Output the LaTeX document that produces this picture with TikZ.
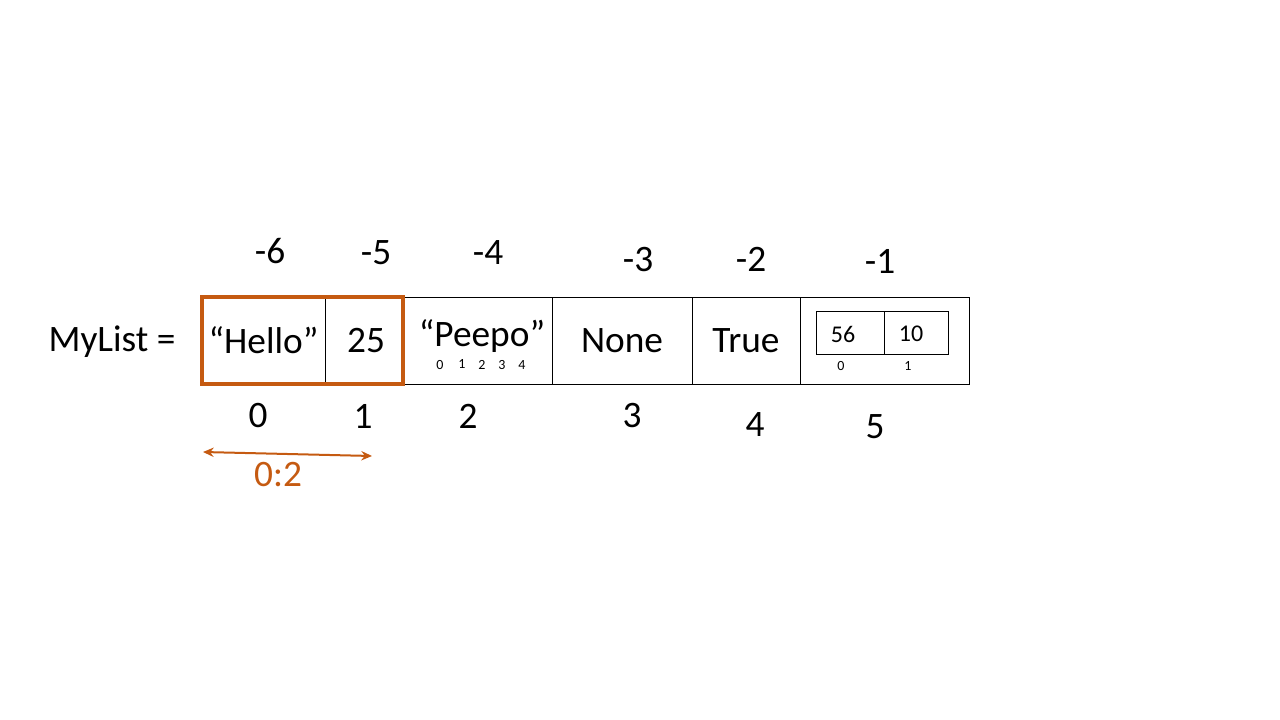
\documentclass[tikz,border=0pt]{standalone}
\usepackage{fontspec}
\setmainfont{Carlito}
\usepackage{xcolor}
\usetikzlibrary{positioning,arrows.meta}
\definecolor{orangebrule}{RGB}{197,90,17}

\begin{document}
\begin{tikzpicture}[x=0.75pt,y=-0.75pt]
  \tikzset{
    node distance=0pt,
    case/.style={draw,line width=0.75pt,outer sep=0pt,inner sep=0pt,
      minimum height=87*0.75pt,font=\fontsize{28}{32}\selectfont},
    petite case/.style={case,minimum height=43*0.75pt},
    indice/.style={font=\fontsize{28}{32}\selectfont,inner sep=0pt},
    petit texte/.style={font=\fontsize{18}{20}\selectfont,inner sep=0pt},
    mini indice/.style={font=\fontsize{10.5}{12}\selectfont,inner sep=0pt},
    fleche/.style={draw=orangebrule,line width=1.5pt,
      {Stealth[length=8pt,width=7pt]}-{Stealth[length=8pt,width=7pt]}},
  }
  \useasboundingbox (0,0) rectangle (1280,720);
  \node[indice] (nom) at (112,342) {MyList =};
  % les cases de la liste
  \node[case,minimum width=123*0.75pt] (c0) at (263.5,340.5) {“Hello”};
  \node[case,minimum width=78*0.75pt,right=of c0] (c1) {\hspace{3pt}25};
  \node[case,minimum width=149*0.75pt,right=of c1] (c2) {};
  \node[case,minimum width=140*0.75pt,right=of c2] (c3) {None};
  \node[case,minimum width=108*0.75pt,right=of c3] (c4) {True\hspace{6pt}};
  \node[case,minimum width=169*0.75pt,right=of c4] (c5) {};
  \draw[orangebrule,line width=2.5pt] (c0.north west) rectangle (c1.south east);
  % "Peepo" et ses indices
  \node[indice] (peepo) at (482,336) {“Peepo”};
  \node[mini indice] (p0) at (440,365) {0};
  \node[mini indice] (p1) at (462,364) {1};
  \node[mini indice] (p2) at (482,365) {2};
  \node[mini indice] (p3) at (502,365) {3};
  \node[mini indice] (p4) at (522,365) {4};
  % la liste dans la liste
  \node[petite case,minimum width=68*0.75pt] (s0) at (850,332.5) {};
  \node[petite case,minimum width=64*0.75pt,right=of s0] (s1) {};
  \node[petit texte] (v0) at (843,334) {56};
  \node[petit texte] (v1) at (911,334) {10};
  \node[mini indice] (q0) at (841,366) {0};
  \node[mini indice] (q1) at (908,366) {1};
  % indices negatifs
  \node[indice] (m6) at (270,251) {-6};
  \node[indice] (m5) at (376,253) {-5};
  \node[indice] (m4) at (488,253) {-4};
  \node[indice] (m3) at (638,260) {-3};
  \node[indice] (m2) at (751,259) {-2};
  \node[indice] (m1) at (880,261) {-1};
  % indices positifs
  \node[indice] (i0) at (258,416) {0};
  \node[indice] (i1) at (363,416) {1};
  \node[indice] (i2) at (468,416) {2};
  \node[indice] (i3) at (632,416) {3};
  \node[indice] (i4) at (755,425) {4};
  \node[indice] (i5) at (875,427) {5};
  % la tranche 0:2
  \coordinate (debut) at (203,452);
  \coordinate (fin) at (372,456);
  \draw[fleche] (debut) -- (fin);
  \node[indice,text=orangebrule] (tranche) at (278,475) {0:2};
\end{tikzpicture}
\end{document}
